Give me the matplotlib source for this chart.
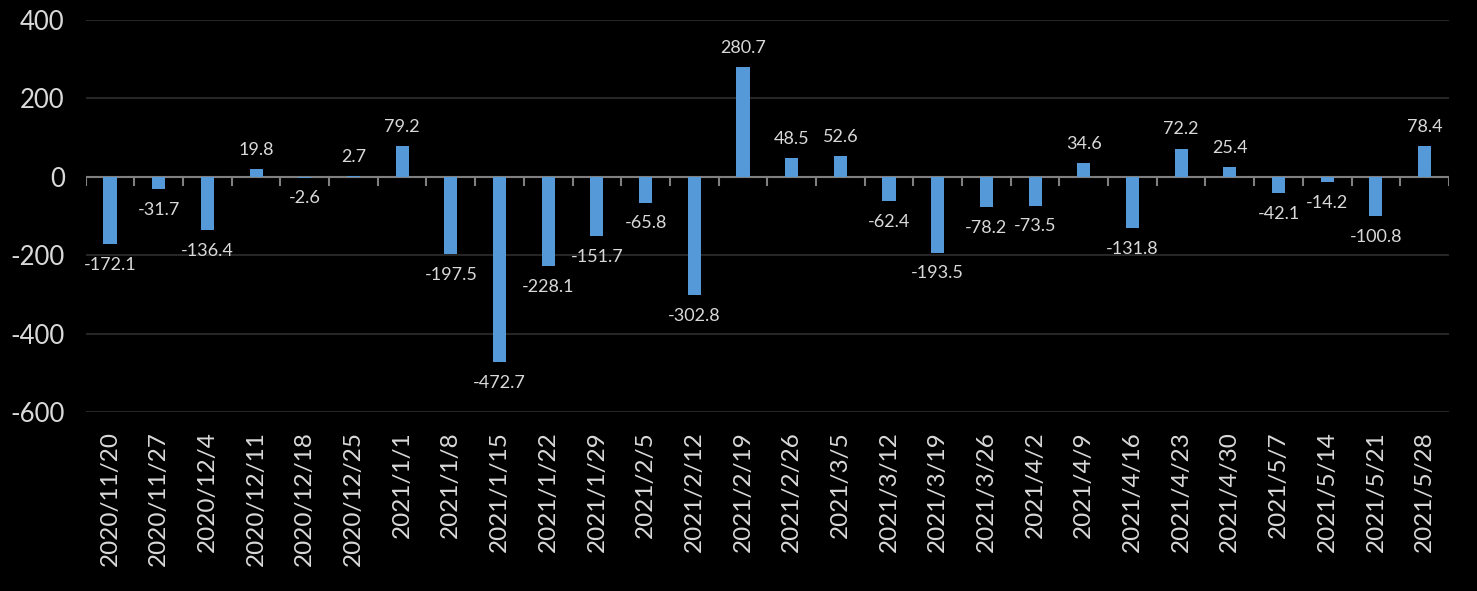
import matplotlib
matplotlib.use('Agg')
import matplotlib.pyplot as plt
import numpy as np

plt.rcParams['font.family'] = ['Lato', 'DejaVu Sans']
plt.rcParams['axes.unicode_minus'] = False

dates = ['2020/11/20', '2020/11/27', '2020/12/4', '2020/12/11', '2020/12/18',
         '2020/12/25', '2021/1/1', '2021/1/8', '2021/1/15', '2021/1/22',
         '2021/1/29', '2021/2/5', '2021/2/12', '2021/2/19', '2021/2/26',
         '2021/3/5', '2021/3/12', '2021/3/19', '2021/3/26', '2021/4/2',
         '2021/4/9', '2021/4/16', '2021/4/23', '2021/4/30', '2021/5/7',
         '2021/5/14', '2021/5/21', '2021/5/28']
values = [-172.1, -31.7, -136.4, 19.8, -2.6, 2.7, 79.2, -197.5, -472.7, -228.1,
          -151.7, -65.8, -302.8, 280.7, 48.5, 52.6, -62.4, -193.5, -78.2, -73.5,
          34.6, -131.8, 72.2, 25.4, -42.1, -14.2, -100.8, 78.4]

text_col = '#d9d9d9'

fig = plt.figure(figsize=(14.77, 5.91), dpi=100, facecolor='black')
ax = fig.add_axes([0.058, 0.303, 0.923, 0.663], facecolor='black')

x = np.arange(len(values))
ax.bar(x, values, width=0.27, color='#5599d8', zorder=5)

ax.set_xlim(-0.5, len(values) - 0.5)
ax.set_ylim(-600, 400)
ax.set_yticks([-600, -400, -200, 0, 200, 400])
ax.tick_params(axis='y', length=0, colors=text_col, labelsize=18.5, pad=15)
ax.grid(axis='y', color='#262626', linewidth=1.5, zorder=0)

ax.set_xticks(x)
ax.set_xticklabels(dates, rotation=90, color=text_col, fontsize=17.5)
ax.tick_params(axis='x', length=0, pad=14)

# category boundary ticks on the zero line
for b in np.arange(-0.5, len(values), 1.0):
    ax.plot([b, b], [0, -22], color='#808080', linewidth=1.5, zorder=4)
ax.axhline(0, color='#808080', linewidth=1.5, zorder=4)

for s in ax.spines.values():
    s.set_visible(False)

for xi, v in zip(x, values):
    if v >= 0:
        ax.annotate(f'{v:.1f}', (xi, v), xytext=(0, 8), textcoords='offset points',
                    ha='center', va='bottom', color=text_col, fontsize=13)
    else:
        ax.annotate(f'{v:.1f}', (xi, v), xytext=(0, -9), textcoords='offset points',
                    ha='center', va='top', color=text_col, fontsize=13)

fig.savefig('out.png', dpi=100, facecolor='black')
